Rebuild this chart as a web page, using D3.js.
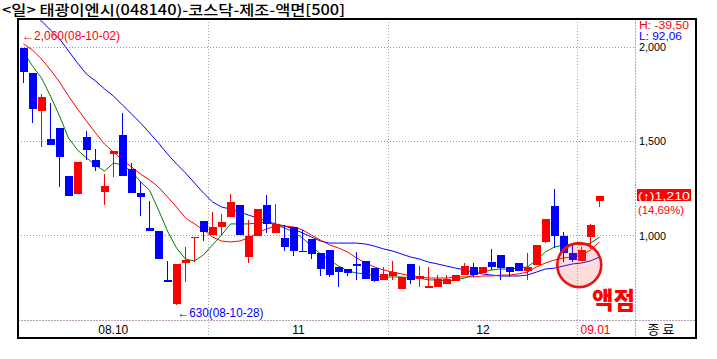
<!DOCTYPE html>
<html><head><meta charset="utf-8">
<script src="https://cdn.jsdelivr.net/npm/d3@7/dist/d3.min.js"></script>
<style>html,body{margin:0;padding:0;background:#fff;} svg{display:block}</style>
</head><body>
<svg id="c" width="717" height="359"></svg>
<script>
// ---- data (daily candles, 2008-10-02 .. 2009-01-06) ----
const opens  = [1995,1862,1660,1511,1569,1314,1218,1521,1399,1229,1431,1532,1351,1223,1037,1021,761,633,851,985,1074,1000,1043,1096,1160,883,995,1160,1011,984,1043,917,979,904,920,830,819,846,862,824,761,782,713,846,766,718,723,739,755,787,830,798,856,894,830,851,809,840,963,1154,995,904,862,989,1181];
const highs  = [1995,1862,1750,1702,1569,1314,1388,1553,1457,1324,1447,1649,1383,1282,1181,1021,862,846,936,990,1074,1122,1112,1218,1160,1080,1138,1213,1165,1053,1043,1027,979,904,920,830,819,910,862,824,830,862,777,846,835,830,787,787,787,851,851,830,926,894,830,851,904,947,1085,1245,1016,957,936,1059,1210];
const lows   = [1808,1596,1468,1479,1255,1207,1218,1399,1340,1160,1309,1314,1223,1101,1021,872,750,630,750,856,968,1000,1000,1096,1000,851,995,1011,1011,915,888,915,872,782,777,723,782,761,766,750,761,761,713,739,723,718,723,739,755,787,777,798,814,761,777,809,761,840,957,930,856,856,862,926,1149];
const closes = [1867,1670,1734,1479,1415,1207,1388,1452,1362,1261,1447,1314,1223,1202,1021,872,750,846,867,990,1016,1043,1069,1176,1000,995,1138,1059,1059,936,915,915,899,819,787,803,798,835,766,755,793,803,777,761,782,729,766,766,787,835,787,830,830,824,803,809,830,947,1085,995,904,867,920,1055,1210];
const ma5  = [1973,1899,1835,1739,1633,1516,1452,1410,1372,1340,1383,1372,1340,1282,1239,1133,1021,931,872,862,894,947,1000,1059,1059,1059,1064,1069,1053,1037,1016,984,941,899,867,835,809,798,793,782,777,777,777,771,771,761,761,755,761,771,787,803,814,819,819,824,830,867,910,936,947,952,947,957,989];
const ma10 = [2016,1984,1936,1878,1814,1739,1670,1606,1543,1484,1441,1399,1362,1324,1293,1255,1202,1149,1090,1059,1027,989,968,963,968,984,1011,1032,1048,1048,1043,1027,1000,973,947,931,910,878,851,830,814,803,793,782,777,771,771,771,777,777,777,782,782,787,787,793,803,830,851,867,878,883,894,920,963];
const ma20 = [2229,2181,2138,2090,2043,1979,1915,1856,1819,1777,1739,1691,1644,1596,1543,1489,1431,1378,1330,1277,1223,1176,1149,1138,1122,1106,1090,1074,1059,1048,1032,1011,989,968,957,957,957,957,952,941,926,915,899,883,872,856,846,835,824,814,803,793,787,782,782,782,787,803,819,824,835,846,851,862,883];
const priceTicks = [1000, 1500, 2000];
const priceTickLabels = ["1,000", "1,500", "2,000"];
const monthLabels = ["08.10", "11", "12", "09.01"];
const monthStarts = [0, 21, 41, 62];
const title = "<일> 태광이엔시(048140)-코스닥-제조-액면[500]";
const hiNote = "←2,060(08-10-02)", hiValue = 2060;
const loNote = "←630(08-10-28)", loValue = 630, loIndex = 17;
const hText = "H: -39,50", lText = "L: 92,06";
const lastText = "(↑)1,210", pctText = "(14,69%)";
const markText = "액점";
const markIndex = 61.75, markPrice = 840;

// ---- layout ----
const L = 18, T = 19, R = 635, B = 320, FR = 696, FB = 338;
const svg = d3.select("#c");
const n = closes.length;
const x = d3.scaleLinear().domain([0, n - 1]).range([23.5, 23.5 + 9 * (n - 1)]);
const y = d3.scaleLinear().domain([547.9, 2148.9]).range([B, T]);
const RED = "#ff0000", BLUE = "#0000ff", GREEN = "#007f00";
const latin = "'Liberation Sans', Arial, sans-serif";
const kr = "'Noto Sans CJK KR', sans-serif";

svg.append("rect").attr("width", 717).attr("height", 359).attr("fill", "#fff");
svg.append("defs").append("clipPath").attr("id", "plot")
  .append("rect").attr("x", L).attr("y", T).attr("width", R - L).attr("height", B - T);

// grid
const grid = svg.append("g").attr("shape-rendering", "crispEdges");
grid.selectAll("line.h").data(priceTicks).join("line")
  .attr("x1", L).attr("x2", R)
  .attr("y1", d => Math.round(y(d)) + 0.5).attr("y2", d => Math.round(y(d)) + 0.5)
  .attr("stroke", "#999").attr("stroke-dasharray", "1,2");
const bounds = monthStarts.slice(1).map(i => Math.round(x(i - 0.5)) + 0.5);
grid.selectAll("line.v").data(bounds).join("line")
  .attr("x1", d => d).attr("x2", d => d).attr("y1", T).attr("y2", FB)
  .attr("stroke", "#a8a0a8").attr("stroke-dasharray", "1,2");
grid.append("line").attr("x1", L).attr("x2", FR).attr("y1", B + 0.5).attr("y2", B + 0.5)
  .attr("stroke", "#b8a0b8").attr("stroke-dasharray", "2,1");
grid.append("line").attr("x1", R + 0.5).attr("x2", R + 0.5).attr("y1", T).attr("y2", FB)
  .attr("stroke", "#b8a0b8").attr("stroke-dasharray", "2,1");

// moving averages
const plot = svg.append("g").attr("clip-path", "url(#plot)");
const line = d3.line().x((d, i) => x(i)).y(d => y(d));
[[ma20, BLUE], [ma10, RED], [ma5, GREEN]].forEach(([arr, col]) => {
  plot.append("path").datum(arr).attr("d", line).attr("fill", "none")
    .attr("stroke", col).attr("stroke-width", 1);
});

// candles
const idx = d3.range(n);
const cg = plot.append("g").attr("shape-rendering", "crispEdges");
cg.selectAll("line").data(idx).join("line")
  .attr("x1", i => Math.floor(x(i)) + 0.5).attr("x2", i => Math.floor(x(i)) + 0.5)
  .attr("y1", i => y(highs[i])).attr("y2", i => y(lows[i]))
  .attr("stroke", i => closes[i] >= opens[i] ? RED : BLUE);
cg.selectAll("rect").data(idx).join("rect")
  .attr("x", i => x(i) - 3.5).attr("width", 8)
  .attr("y", i => y(Math.max(opens[i], closes[i])))
  .attr("height", i => Math.max(1.5, Math.abs(y(opens[i]) - y(closes[i]))))
  .attr("fill", i => closes[i] >= opens[i] ? RED : BLUE);

// highlight circle
svg.append("circle").attr("cx", x(markIndex)).attr("cy", y(markPrice)).attr("r", 22)
  .attr("fill", "rgba(255,60,60,0.18)").attr("stroke", "#e41414").attr("stroke-width", 2.6);
svg.append("text").attr("x", 592).attr("y", 308.5).attr("font-family", kr)
  .attr("font-size", 24).attr("font-weight", 900).attr("fill", RED)
  .attr("textLength", 43).attr("lengthAdjust", "spacingAndGlyphs").text(markText);

// frame
svg.append("rect").attr("x", L).attr("y", T).attr("width", FR - L).attr("height", FB - T)
  .attr("fill", "none").attr("stroke", "#000").attr("stroke-width", 2)
  .attr("shape-rendering", "crispEdges");

// texts
function txt(s, tx, ty, opt) {
  const t = svg.append("text").attr("x", tx).attr("y", ty)
    .attr("font-family", opt.font || latin).attr("font-size", opt.size || 12)
    .attr("font-weight", opt.weight || "normal")
    .attr("fill", opt.fill || "#000").attr("text-anchor", opt.anchor || "start").text(s);
  if (opt.len) t.attr("textLength", opt.len).attr("lengthAdjust", "spacingAndGlyphs");
  return t;
}
txt(title, 2, 15, {font: kr, size: 14, len: 343, weight: 500});
txt(hiNote, 22, y(hiValue) + 4.5, {fill: RED, len: 98});
txt(loNote, x(loIndex) + 1, y(loValue) + 12, {fill: BLUE, len: 86});
txt(hText, 639, 28.5, {fill: RED, len: 50, size: 10});
txt(lText, 639, 40, {fill: BLUE, len: 43, size: 10});
priceTicks.forEach((p, k) => txt(priceTickLabels[k], 639, y(p) + (p === 2000 ? 4.5 : 4.5), {len: 27, size: p === 2000 ? 10 : 11.5}));
svg.append("rect").attr("x", 637).attr("y", y(closes[n - 1]) - 6.5).attr("width", 54).attr("height", 12)
  .attr("fill", RED);
txt(lastText, 638, y(closes[n - 1]) + 4, {fill: "#fff", len: 52, size: 11});
txt(pctText, 638, y(closes[n - 1]) + 18, {fill: RED, len: 46, size: 11});

// month labels
const edges = [L].concat(bounds);
monthLabels.forEach((m, k) => {
  if (k < monthLabels.length - 1) {
    txt(m, (edges[k] + edges[k + 1]) / 2, 333.5, {anchor: "middle"});
  } else {
    txt(m, edges[k] + 3, 333.5, {fill: RED});
  }
});
txt("종 료", 661, 334, {font: kr, size: 13, anchor: "middle"});
</script>
</body></html>
